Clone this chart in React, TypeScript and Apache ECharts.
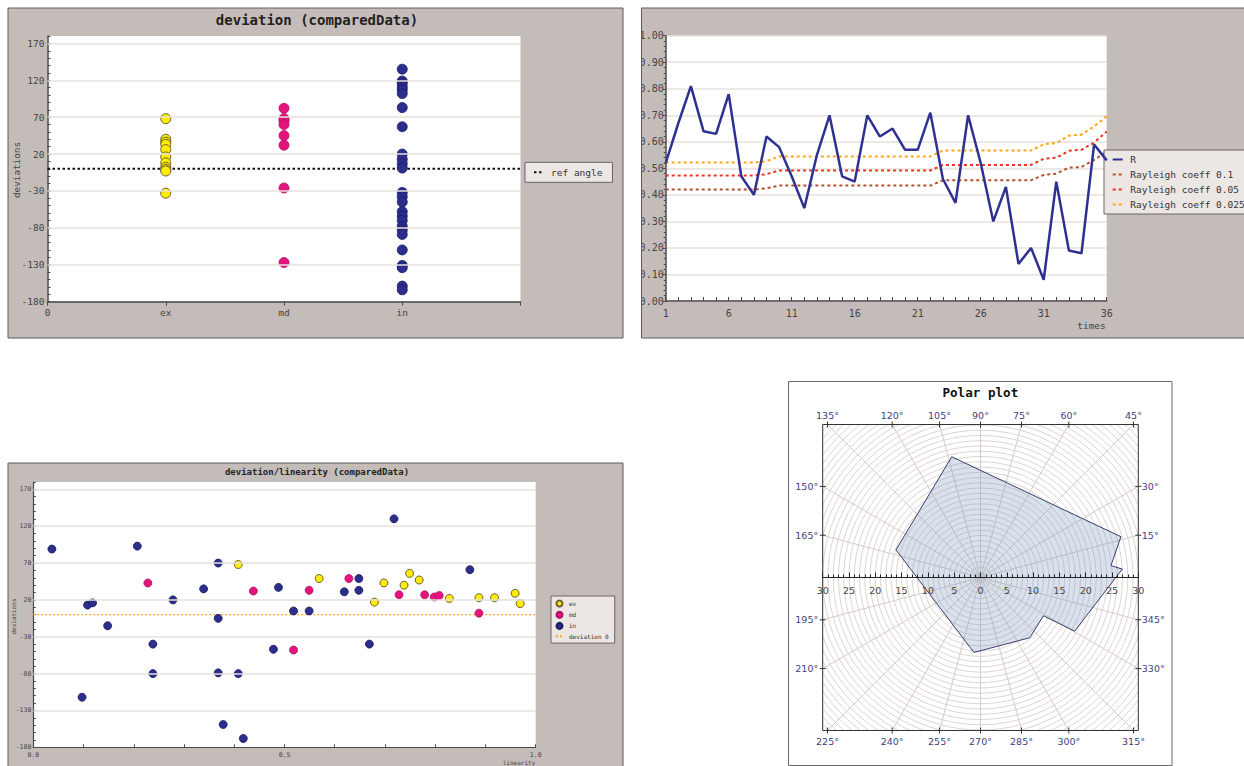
import React, { useEffect, useRef } from 'react';
import * as echarts from 'echarts';

const MONO = '"DejaVu Sans Mono", "Liberation Mono", monospace';
const SANS = '"DejaVu Sans", Verdana, sans-serif';
const PANEL_BG = '#c4bcb9';
const PANEL_BORDER = '#5e5a58';
const GRID_LINE = '#e6e0dd';
const AXIS = '#4a4a4a';
const LABEL = '#444444';
const LEGEND_BG = '#ece7e5';

// ---------- Panel 1: deviation (comparedData)
const deviationCategories = ['0', 'ex', 'md', 'in'];
const deviationTicks = [-180, -130, -80, -30, 20, 70, 120, 170];
const exDeviations = [68, 40, 36, 33, 26, 16, 8, 2, -1, -3, -33];
const mdDeviations = [82, 68, 65, 60, 45, 32, -26, -127];
const inDeviations = [135, 119, 116, 111, 107, 102, 83, 57, 20, 13, 7, 1, -32, -38, -45, -58, -64, -70, -78, -83, -89, -110, -131, -134, -159, -164];

// ---------- Panel 2: R and Rayleigh coefficients over time
const times = ['1', '2', '3', '4', '5', '6', '7', '8', '9', '10', '11', '12', '13', '14', '15', '16', '17', '18', '19', '20', '21', '22', '23', '24', '25', '26', '27', '28', '29', '30', '31', '32', '33', '34', '35', '36'];
const rValues = [0.52, 0.67, 0.81, 0.64, 0.63, 0.78, 0.47, 0.40, 0.62, 0.58, 0.47, 0.35, 0.55, 0.70, 0.47, 0.45, 0.70, 0.62, 0.65, 0.57, 0.57, 0.71, 0.46, 0.37, 0.70, 0.52, 0.30, 0.43, 0.14, 0.20, 0.08, 0.45, 0.19, 0.18, 0.59, 0.53];
const rayleigh010 = [0.42, 0.42, 0.42, 0.42, 0.42, 0.42, 0.42, 0.42, 0.425, 0.435, 0.435, 0.435, 0.435, 0.435, 0.435, 0.435, 0.435, 0.435, 0.435, 0.435, 0.435, 0.435, 0.455, 0.455, 0.455, 0.455, 0.455, 0.455, 0.455, 0.455, 0.475, 0.48, 0.503, 0.505, 0.532, 0.563];
const rayleigh005 = [0.473, 0.473, 0.473, 0.473, 0.473, 0.473, 0.473, 0.473, 0.478, 0.492, 0.492, 0.492, 0.492, 0.492, 0.492, 0.492, 0.492, 0.492, 0.492, 0.492, 0.492, 0.492, 0.513, 0.513, 0.513, 0.513, 0.513, 0.513, 0.513, 0.513, 0.536, 0.54, 0.566, 0.57, 0.597, 0.639];
const rayleigh0025 = [0.522, 0.522, 0.522, 0.522, 0.522, 0.522, 0.522, 0.522, 0.527, 0.545, 0.545, 0.545, 0.545, 0.545, 0.545, 0.545, 0.545, 0.545, 0.545, 0.545, 0.545, 0.545, 0.567, 0.567, 0.567, 0.567, 0.567, 0.567, 0.567, 0.567, 0.591, 0.595, 0.623, 0.627, 0.658, 0.696];

// ---------- Panel 3: deviation / linearity
const linearityTickLabels = ['0.0', '0.5', '1.0'];
const exLinearity = [[0.408, 68], [0.569, 49], [0.679, 17], [0.698, 43], [0.738, 40], [0.749, 56], [0.768, 47], [0.828, 22], [0.887, 23], [0.918, 23], [0.959, 29], [0.969, 15]];
const mdLinearity = [[0.228, 43], [0.438, 32], [0.518, -48], [0.549, 33], [0.628, 49], [0.728, 27], [0.779, 27], [0.798, 24], [0.808, 26], [0.887, 2]];
const inLinearity = [[0.037, 89], [0.097, -112], [0.108, 13], [0.118, 16], [0.148, -15], [0.207, 93], [0.238, -40], [0.238, -80], [0.278, 20], [0.339, 35], [0.368, 70], [0.368, -5], [0.368, -79], [0.378, -149], [0.408, -80], [0.418, -168], [0.478, -47], [0.488, 37], [0.518, 5], [0.549, 5], [0.619, 31], [0.648, 49], [0.648, 33], [0.669, -40], [0.718, 130], [0.869, 61]];

// ---------- Panel 4: polar plot
const polarRadii = [23.6, 27.8, 24.9, 27.0, 20.6, 14.0, 14.8, 14.3, 16.9, 23.6];
const polarAngles = [103.4, 16.2, 5.2, 3.4, 330.3, 328.7, 309.3, 265.0, 161.9, 103.4];
const angleTickLabels = [15, 30, 45, 60, 75, 90, 105, 120, 135, 150, 165, 195, 210, 225, 240, 255, 270, 285, 300, 315, 330, 345];

// polar layout
const PCX = 980.5;
const PCY = 577.5;
const PHW = 157.8;
const PHH = 153;
const PX_PER_UNIT = PHW / 30;
const POLAR_MAX = 42;

function buildAngleGraphics() {
  const els: any[] = [];
  angleTickLabels.forEach((a) => {
    const rad = (a * Math.PI) / 180;
    const c = Math.cos(rad);
    const s = Math.sin(rad);
    const tx = Math.abs(c) > 1e-9 ? PHW / Math.abs(c) : Infinity;
    const ty = Math.abs(s) > 1e-9 ? PHH / Math.abs(s) : Infinity;
    const t = Math.min(tx, ty);
    const px = PCX + t * c;
    const py = PCY - t * s;
    const txt = a + '°';
    const style: any = { text: txt, fill: '#3f3f82', font: '9.5px ' + SANS };
    if (ty <= tx) {
      if (s > 0) {
        els.push({ type: 'text', z: 53, x: px, y: PCY - PHH - 9, style: { ...style, align: 'center', verticalAlign: 'middle' } });
        els.push({ type: 'line', z: 53, shape: { x1: px, y1: PCY - PHH - 3, x2: px, y2: PCY - PHH + 3 }, style: { stroke: '#333', lineWidth: 1 } });
      } else {
        els.push({ type: 'text', z: 53, x: px, y: PCY + PHH + 10.6, style: { ...style, align: 'center', verticalAlign: 'middle' } });
        els.push({ type: 'line', z: 53, shape: { x1: px, y1: PCY + PHH - 3, x2: px, y2: PCY + PHH + 3 }, style: { stroke: '#333', lineWidth: 1 } });
      }
    } else if (c < 0) {
      els.push({ type: 'text', z: 53, x: PCX - PHW - 4.5, y: py, style: { ...style, align: 'right', verticalAlign: 'middle' } });
      els.push({ type: 'line', z: 53, shape: { x1: PCX - PHW - 3, y1: py, x2: PCX - PHW + 3, y2: py }, style: { stroke: '#333', lineWidth: 1 } });
    } else {
      els.push({ type: 'text', z: 53, x: PCX + PHW + 3.5, y: py, style: { ...style, align: 'left', verticalAlign: 'middle' } });
      els.push({ type: 'line', z: 53, shape: { x1: PCX + PHW - 3, y1: py, x2: PCX + PHW + 3, y2: py }, style: { stroke: '#333', lineWidth: 1 } });
    }
  });
  return els;
}

function gridMarkLine() {
  return {
    silent: true,
    symbol: ['none', 'none'],
    label: { show: false },
    emphasis: { disabled: true },
    lineStyle: { color: GRID_LINE, type: 'solid', width: 1.5 },
    data: deviationTicks.filter((v) => v > -180).map((v) => ({ yAxis: v })),
  };
}

function buildOption(): any {
  const deviationLabel = (fs: number, margin: number) => ({
    formatter: (v: number) => (deviationTicks.indexOf(Math.round(v)) >= 0 ? String(Math.round(v)) : ''),
    fontFamily: MONO,
    fontSize: fs,
    color: LABEL,
    margin,
  });

  const exStyle = { color: '#ffec00', borderColor: '#6e6030', borderWidth: 1, opacity: 1 };
  const mdStyle = { color: '#e4147f', borderColor: '#b30f62', borderWidth: 0.8, opacity: 1 };
  const inStyle = { color: '#2b2e8c', borderColor: '#1b1b5e', borderWidth: 0.8, opacity: 1 };
  const lineOnly = { opacity: 0 };

  const graphics: any[] = [
    // panel backgrounds
    { type: 'rect', z: -10, shape: { x: 8, y: 8, width: 615, height: 330 }, style: { fill: PANEL_BG } },
    { type: 'rect', z: -10, shape: { x: 641.5, y: 8, width: 620, height: 330 }, style: { fill: PANEL_BG } },
    { type: 'rect', z: -10, shape: { x: 8, y: 463, width: 615, height: 320 }, style: { fill: PANEL_BG } },
    { type: 'rect', z: -10, shape: { x: 788.5, y: 381.5, width: 383.5, height: 384 }, style: { fill: '#ffffff' } },
    // gap strip between panel 1 and 2 (clips y labels of panel 2)
    { type: 'rect', z: 50, shape: { x: 623.5, y: 0, width: 17.8, height: 345 }, style: { fill: '#ffffff' } },
    // polar clipping covers
    { type: 'rect', z: 50, shape: { x: 740, y: 342, width: 480, height: PCY - PHH - 342 - 0.5 }, style: { fill: '#ffffff' } },
    { type: 'rect', z: 50, shape: { x: 740, y: PCY + PHH + 0.5, width: 480, height: 80 }, style: { fill: '#ffffff' } },
    { type: 'rect', z: 50, shape: { x: 740, y: PCY - PHH - 1, width: PCX - PHW - 740 - 0.5, height: 2 * PHH + 2 }, style: { fill: '#ffffff' } },
    { type: 'rect', z: 50, shape: { x: PCX + PHW + 0.5, y: PCY - PHH - 1, width: 80, height: 2 * PHH + 2 }, style: { fill: '#ffffff' } },
    // panel borders
    { type: 'rect', z: 51, shape: { x: 8, y: 8, width: 615, height: 330 }, style: { fill: 'none', stroke: PANEL_BORDER, lineWidth: 1 } },
    { type: 'rect', z: 51, shape: { x: 641.5, y: 8, width: 620, height: 330 }, style: { fill: 'none', stroke: PANEL_BORDER, lineWidth: 1 } },
    { type: 'rect', z: 51, shape: { x: 8, y: 463, width: 615, height: 320 }, style: { fill: 'none', stroke: PANEL_BORDER, lineWidth: 1 } },
    { type: 'rect', z: 51, shape: { x: 788.5, y: 381.5, width: 383.5, height: 384 }, style: { fill: 'none', stroke: '#6a6a6a', lineWidth: 1 } },
    { type: 'rect', z: 52, shape: { x: PCX - PHW, y: PCY - PHH, width: 2 * PHW, height: 2 * PHH }, style: { fill: 'none', stroke: '#333333', lineWidth: 1 } },
    // titles and axis names
    { type: 'text', z: 53, x: 317, y: 19.5, style: { text: 'deviation (comparedData)', font: 'bold 14px ' + MONO, fill: '#222', align: 'center', verticalAlign: 'middle' } },
    { type: 'text', z: 53, x: 317, y: 471.5, style: { text: 'deviation/linearity (comparedData)', font: 'bold 9px ' + MONO, fill: '#222', align: 'center', verticalAlign: 'middle' } },
    { type: 'text', z: 53, x: 980.3, y: 392, style: { text: 'Polar plot', font: 'bold 12.6px ' + MONO, fill: '#111', align: 'center', verticalAlign: 'middle' } },
    { type: 'text', z: 53, x: 16.7, y: 170, rotation: Math.PI / 2, style: { text: 'deviations', font: '9.3px ' + MONO, fill: LABEL, align: 'center', verticalAlign: 'middle' } },
    { type: 'text', z: 53, x: 13.3, y: 616.5, rotation: Math.PI / 2, style: { text: 'deviations', font: '6px ' + MONO, fill: LABEL, align: 'center', verticalAlign: 'middle' } },
    { type: 'text', z: 53, x: 1091.5, y: 325, style: { text: 'times', font: '9.5px ' + MONO, fill: LABEL, align: 'center', verticalAlign: 'middle' } },
    { type: 'text', z: 53, x: 519, y: 762.7, style: { text: 'linearity', font: '6px ' + MONO, fill: LABEL, align: 'center', verticalAlign: 'middle' } },
    ...buildAngleGraphics(),
  ];

  return {
    animation: false,
    backgroundColor: 'transparent',
    graphic: { elements: graphics },
    grid: [
      { left: 47.5, top: 36, width: 473, height: 265.6, show: true, backgroundColor: '#ffffff', borderWidth: 0 },
      { left: 665.7, top: 35.7, width: 441, height: 265.3, show: true, backgroundColor: '#ffffff', borderWidth: 0 },
      { left: 33.3, top: 482, width: 502.4, height: 265.3, show: true, backgroundColor: '#ffffff', borderWidth: 0 },
      { left: PCX - PHW, top: PCY - PHH, width: 2 * PHW, height: PHH, show: false },
    ],
    xAxis: [
      {
        gridIndex: 0, type: 'value', min: 0, max: 4, interval: 1,
        axisLine: { onZero: false, lineStyle: { color: AXIS, width: 1.5 } },
        axisTick: { show: true, length: 4, lineStyle: { color: AXIS } },
        axisLabel: { formatter: (v: number) => deviationCategories[Math.round(v)] ?? '', fontFamily: MONO, fontSize: 9.5, color: LABEL, margin: 6 },
        splitLine: { show: false },
      },
      {
        gridIndex: 1, type: 'category', data: times, boundaryGap: false,
        axisLine: { onZero: false, lineStyle: { color: AXIS, width: 1.5 } },
        axisTick: { show: true, inside: true, interval: 0, length: 4, lineStyle: { color: AXIS } },
        axisLabel: { interval: 4, fontFamily: MONO, fontSize: 10, color: LABEL, margin: 7 },
        splitLine: { show: false },
      },
      {
        gridIndex: 2, type: 'value', min: 0, max: 1, interval: 0.1,
        axisLine: { onZero: false, lineStyle: { color: AXIS, width: 1.2 } },
        axisTick: { show: true, inside: true, length: 3, lineStyle: { color: AXIS } },
        axisLabel: { formatter: (v: number) => (linearityTickLabels.indexOf(v.toFixed(1)) >= 0 ? v.toFixed(1) : ''), fontFamily: MONO, fontSize: 6.5, color: LABEL, margin: 4 },
        splitLine: { show: false },
      },
      {
        gridIndex: 3, type: 'value', min: -30, max: 30, interval: 5, z: 60,
        axisLine: { onZero: false, lineStyle: { color: '#222', width: 1 } },
        axisTick: { show: true, inside: true, length: 5, lineStyle: { color: '#222' } },
        minorTick: { show: true, splitNumber: 5, length: 3, lineStyle: { color: '#222' } },
        axisLabel: { formatter: (v: number) => String(Math.abs(v)), fontFamily: SANS, fontSize: 9.5, color: LABEL, margin: 8 },
        splitLine: { show: false },
      },
    ],
    yAxis: [
      {
        gridIndex: 0, type: 'value', min: -180, max: 180, interval: 10,
        axisLine: { show: true, onZero: false, lineStyle: { color: AXIS, width: 1.5 } },
        axisTick: { show: true, inside: true, length: 3, lineStyle: { color: AXIS } },
        axisLabel: deviationLabel(9.5, 3),
        splitLine: { show: false },
      },
      {
        gridIndex: 1, type: 'value', min: 0, max: 1, interval: 0.1,
        axisLine: { show: true, onZero: false, lineStyle: { color: AXIS, width: 1.5 } },
        axisTick: { show: true, length: 3, lineStyle: { color: AXIS } },
        minorTick: { show: true, splitNumber: 5, length: 2, lineStyle: { color: AXIS } },
        axisLabel: { formatter: (v: number) => v.toFixed(2), fontFamily: MONO, fontSize: 10, color: LABEL, margin: 2 },
        splitLine: { show: true, lineStyle: { color: GRID_LINE, width: 1.5 } },
      },
      {
        gridIndex: 2, type: 'value', min: -180, max: 180, interval: 10,
        axisLine: { show: true, onZero: false, lineStyle: { color: AXIS, width: 1.2 } },
        axisTick: { show: true, inside: true, length: 2.5, lineStyle: { color: AXIS } },
        axisLabel: deviationLabel(6.5, 2),
        splitLine: { show: false },
      },
      { gridIndex: 3, type: 'value', min: 0, max: 1, show: false },
    ],
    polar: [{ center: [PCX, PCY], radius: POLAR_MAX * PX_PER_UNIT }],
    angleAxis: [{
      polarIndex: 0, type: 'value', min: 0, max: 360, interval: 15, startAngle: 0, clockwise: false,
      axisLine: { show: false }, axisTick: { show: false }, axisLabel: { show: false },
      splitLine: { show: true, lineStyle: { color: '#d5cbc7', width: 1 } },
    }],
    radiusAxis: [{
      polarIndex: 0, type: 'value', min: 0, max: POLAR_MAX, interval: 1,
      axisLine: { show: false }, axisTick: { show: false }, axisLabel: { show: false },
      splitLine: { show: true, lineStyle: { color: '#ddd5d2', width: 1 } },
    }],
    legend: [
      {
        data: [{ name: 'ref angle', itemStyle: lineOnly }], left: 525, top: 162.3, orient: 'horizontal', selectedMode: false,
        padding: [4, 10, 4, 8], itemWidth: 9, itemHeight: 8,
        backgroundColor: LEGEND_BG, borderColor: '#6a6665', borderWidth: 1, borderRadius: 0,
        textStyle: { fontFamily: MONO, fontSize: 9.5, color: '#333', lineHeight: 12, padding: [0, 0, 0, 3] },
      },
      {
        data: [
          { name: 'R', itemStyle: lineOnly },
          { name: 'Rayleigh coeff 0.1', itemStyle: lineOnly },
          { name: 'Rayleigh coeff 0.05', itemStyle: lineOnly },
          { name: 'Rayleigh coeff 0.025', itemStyle: lineOnly },
        ],
        left: 1104, top: 150, orient: 'vertical', selectedMode: false,
        padding: [4, 10, 4, 7.7], itemWidth: 10, itemHeight: 10, itemGap: 4,
        backgroundColor: LEGEND_BG, borderColor: '#6a6665', borderWidth: 1, borderRadius: 0,
        textStyle: { fontFamily: MONO, fontSize: 9.5, color: '#333', lineHeight: 11, padding: [0, 0, 0, 2.6] },
      },
      {
        data: [{ name: 'ex', icon: 'circle' }, { name: 'md', icon: 'circle' }, { name: 'in', icon: 'circle' }, { name: 'deviation 0', itemStyle: lineOnly }],
        left: 551, top: 596, orient: 'vertical', selectedMode: false,
        padding: [3.5, 6, 3.5, 4], itemWidth: 7, itemHeight: 6, itemGap: 3.2,
        backgroundColor: LEGEND_BG, borderColor: '#6a6665', borderWidth: 1, borderRadius: 0,
        textStyle: { fontFamily: MONO, fontSize: 6, color: '#333', lineHeight: 6.5, padding: [0, 0, 0, 1] },
      },
    ],
    series: [
      // panel 1
      {
        name: 'ref angle', type: 'line', xAxisIndex: 0, yAxisIndex: 0, z: 1, symbol: 'none', silent: true,
        data: [[0, 0], [4, 0]],
        lineStyle: { color: '#111', width: 2, type: [2.5, 2.5] }, itemStyle: { color: '#111' },
        markLine: gridMarkLine(),
      },
      { name: 'ex', type: 'scatter', xAxisIndex: 0, yAxisIndex: 0, z: 3, symbolSize: 10, itemStyle: exStyle, data: exDeviations.map((v) => [deviationCategories.indexOf('ex'), v]) },
      { name: 'md', type: 'scatter', xAxisIndex: 0, yAxisIndex: 0, z: 3, symbolSize: 10, itemStyle: mdStyle, data: mdDeviations.map((v) => [deviationCategories.indexOf('md'), v]) },
      { name: 'in', type: 'scatter', xAxisIndex: 0, yAxisIndex: 0, z: 3, symbolSize: 10, itemStyle: inStyle, data: inDeviations.map((v) => [deviationCategories.indexOf('in'), v]) },
      // panel 2
      { name: 'R', type: 'line', xAxisIndex: 1, yAxisIndex: 1, z: 4, symbol: 'none', data: rValues, lineStyle: { color: '#2e3192', width: 2.5 }, itemStyle: { color: '#2e3192' } },
      { name: 'Rayleigh coeff 0.1', type: 'line', xAxisIndex: 1, yAxisIndex: 1, z: 3, symbol: 'none', data: rayleigh010, lineStyle: { color: '#b5502e', width: 2, type: [3, 3] }, itemStyle: { color: '#b5502e' } },
      { name: 'Rayleigh coeff 0.05', type: 'line', xAxisIndex: 1, yAxisIndex: 1, z: 3, symbol: 'none', data: rayleigh005, lineStyle: { color: '#ee3322', width: 2, type: [3, 3] }, itemStyle: { color: '#ee3322' } },
      { name: 'Rayleigh coeff 0.025', type: 'line', xAxisIndex: 1, yAxisIndex: 1, z: 3, symbol: 'none', data: rayleigh0025, lineStyle: { color: '#ffa51a', width: 2, type: [3, 3] }, itemStyle: { color: '#ffa51a' } },
      // panel 3
      {
        name: 'deviation 0', type: 'line', xAxisIndex: 2, yAxisIndex: 2, z: 1, symbol: 'none', silent: true,
        data: [[0, 0], [1, 0]],
        lineStyle: { color: '#ffa51a', width: 1.3, type: [2, 2] }, itemStyle: { color: '#ffa51a' },
        markLine: gridMarkLine(),
      },
      { name: 'ex', type: 'scatter', xAxisIndex: 2, yAxisIndex: 2, z: 3, symbolSize: 8, itemStyle: exStyle, data: exLinearity },
      { name: 'md', type: 'scatter', xAxisIndex: 2, yAxisIndex: 2, z: 3, symbolSize: 8, itemStyle: mdStyle, data: mdLinearity },
      { name: 'in', type: 'scatter', xAxisIndex: 2, yAxisIndex: 2, z: 3, symbolSize: 8, itemStyle: inStyle, data: inLinearity },
      // panel 4
      {
        name: 'polar', type: 'line', coordinateSystem: 'polar', polarIndex: 0, z: 3, symbol: 'none', silent: true,
        data: polarRadii.map((r, i) => [r, polarAngles[i]]),
        lineStyle: { color: '#3c3c6e', width: 1 },
        areaStyle: { color: 'rgba(130,160,195,0.45)' },
      },
    ],
  };
}

export default function App() {
  const ref = useRef<HTMLDivElement>(null);
  useEffect(() => {
    document.body.style.margin = '0';
    const chart = echarts.init(ref.current as HTMLDivElement, undefined, { renderer: 'svg', width: 1244, height: 766 });
    chart.setOption(buildOption());
    return () => chart.dispose();
  }, []);
  return <div ref={ref} style={{ position: 'absolute', left: 0, top: 0, width: 1244, height: 766, background: '#ffffff' }} />;
}
